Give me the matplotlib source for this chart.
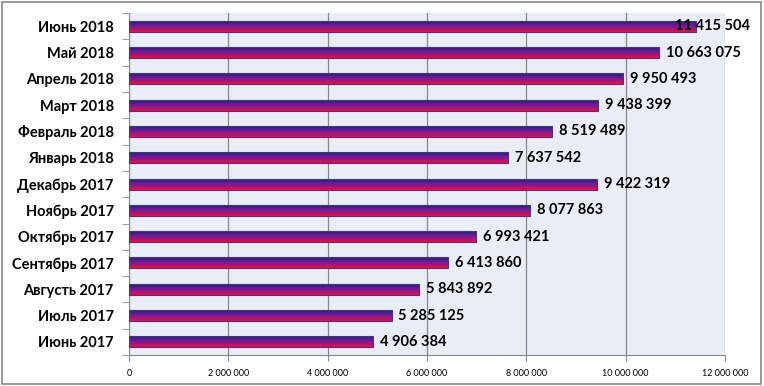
import numpy as np
import matplotlib.pyplot as plt
from matplotlib.colors import LinearSegmentedColormap
from matplotlib.ticker import FuncFormatter

# Данные по месяцам (снизу вверх)
months = ['Июнь 2017', 'Июль 2017', 'Августь 2017', 'Сентябрь 2017',
          'Октябрь 2017', 'Ноябрь 2017', 'Декабрь 2017', 'Январь 2018',
          'Февраль 2018', 'Март 2018', 'Апрель 2018', 'Май 2018', 'Июнь 2018']
values = [4906384, 5285125, 5843892, 6413860, 6993421, 8077863, 9422319,
          7637542, 8519489, 9438399, 9950493, 10663075, 11415504]
xmax = 12000000


def fmt(v):
    return f'{int(v):,}'.replace(',', ' ')


plt.rcParams['font.family'] = ['Lato', 'DejaVu Sans']

fig = plt.figure(figsize=(7.64, 3.86), dpi=100)
ax = fig.add_axes([0.1689, 0.0803, 0.7801, 0.8857])
ax.set_facecolor('#e9edf6')

# Градиент синий -> фиолетовый -> красный
cmap = LinearSegmentedColormap.from_list('g', ['#261680', '#761a98', '#ee1038'])
grad = np.linspace(0, 1, 64).reshape(-1, 1)

y = np.arange(len(months))
bars = ax.barh(y, values, height=0.42, color='none', edgecolor='#3a3a8a',
               linewidth=0.8, zorder=3)
for b in bars:
    x0, y0 = b.get_x(), b.get_y()
    w, h = b.get_width(), b.get_height()
    im = ax.imshow(grad, cmap=cmap, aspect='auto', extent=[x0, x0 + w, y0, y0 + h],
                   origin='upper', zorder=2)
    im.set_clip_path(b)

# Подписи значений; последняя заходит на столбец, чтобы поместиться
for yi, v in zip(y, values):
    dx = -15 if v / xmax > 0.93 else 5
    ax.annotate(fmt(v), (v, yi), xytext=(dx, 0), textcoords='offset points',
                va='center', ha='left', fontsize=10.5, fontweight='bold', zorder=4)

ax.set_xlim(0, xmax)
ax.set_ylim(-0.5, len(months) - 0.5)
ax.set_xticks(np.arange(0, xmax + 1, 2000000))
ax.xaxis.set_major_formatter(FuncFormatter(lambda v, p: fmt(v)))
ax.tick_params(axis='x', labelsize=6.5, length=4, color='#888888', pad=6)
ax.set_yticks(y)
ax.set_yticklabels(months, fontsize=10.5, fontweight='bold')
ax.set_yticks(np.arange(-0.5, len(months)), minor=True)
ax.tick_params(axis='y', which='major', length=0, pad=11)
ax.tick_params(axis='y', which='minor', length=5, color='#888888')
ax.grid(axis='x', color='#888888', linewidth=0.9, zorder=1)
ax.set_axisbelow(True)

for s in ['top', 'right']:
    ax.spines[s].set_visible(False)
ax.spines['left'].set_color('#888888')
ax.spines['bottom'].set_color('#888888')

# Рамка вокруг всей диаграммы
fig.patches.append(plt.Rectangle((0.002, 0.006), 0.994, 0.99, transform=fig.transFigure,
                                 fill=False, edgecolor='#888888', linewidth=1.2))

fig.savefig('out.png', dpi=100)
